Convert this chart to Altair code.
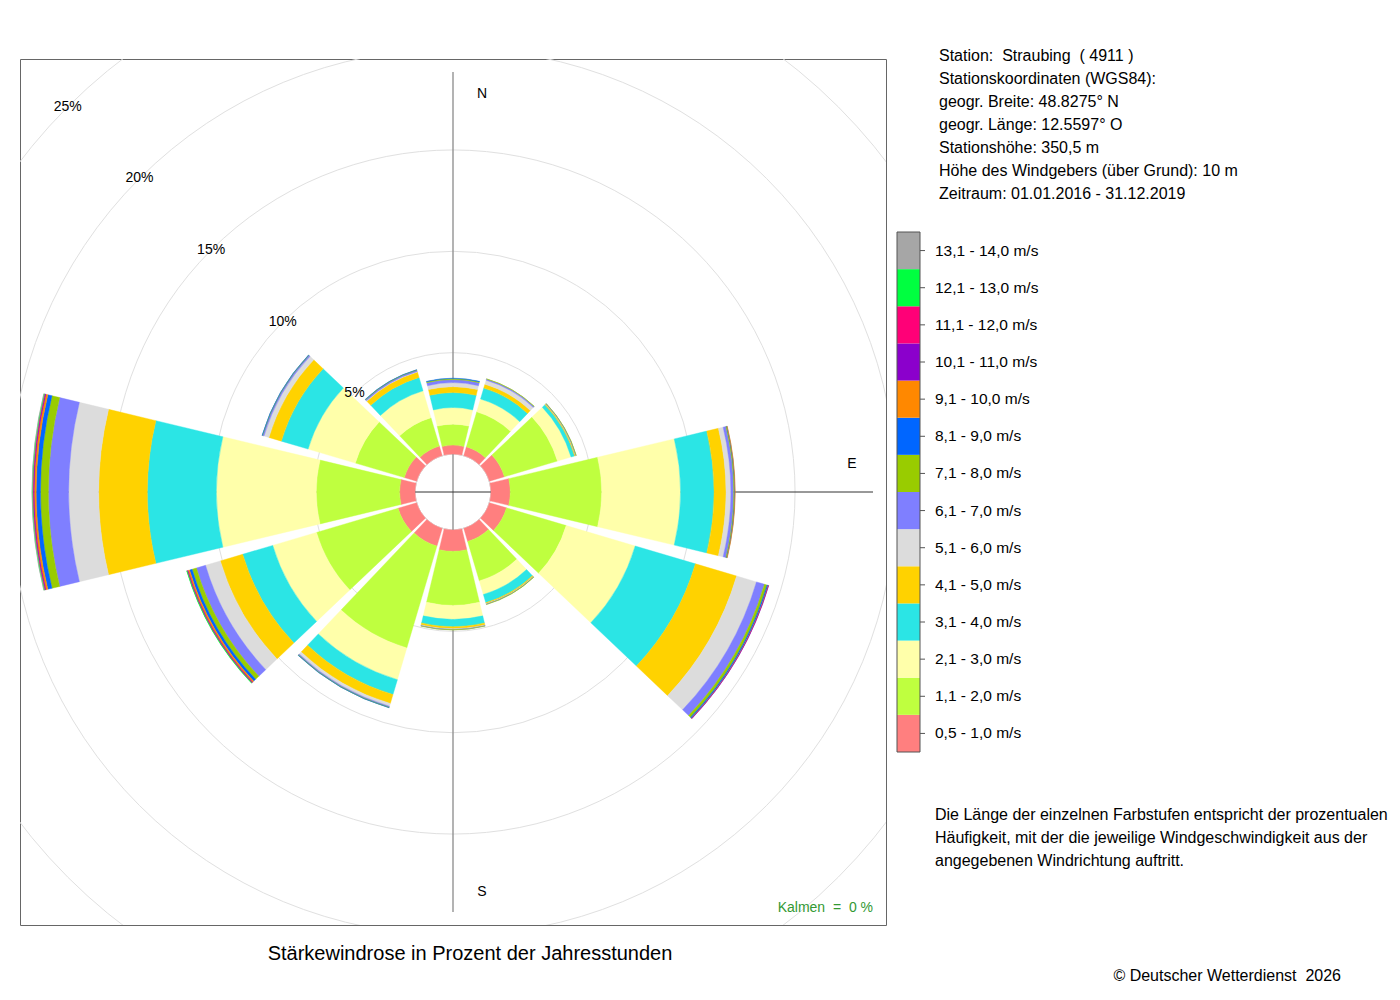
import altair as alt
import pandas as pd

# ---------------- data ----------------
directions = [0, 30, 60, 90, 120, 150, 180, 210, 240, 270, 300, 330]

speed_classes = [
    "0,5 - 1,0 m/s", "1,1 - 2,0 m/s", "2,1 - 3,0 m/s", "3,1 - 4,0 m/s",
    "4,1 - 5,0 m/s", "5,1 - 6,0 m/s", "6,1 - 7,0 m/s", "7,1 - 8,0 m/s",
    "8,1 - 9,0 m/s", "9,1 - 10,0 m/s", "10,1 - 11,0 m/s", "11,1 - 12,0 m/s",
    "12,1 - 13,0 m/s", "13,1 - 14,0 m/s",
]
class_colors = [
    "#FF7F7F", "#BFFF3F", "#FFFFAA", "#2BE5E5", "#FFD200", "#DCDCDC", "#7F7FFF",
    "#99CC00", "#0066FF", "#FF8800", "#8B00CC", "#FF0077", "#00FF40", "#A6A6A6",
]

# percent of hours per direction (N, 30, 60, E, 120, 150, S, 210, 240, W, 300, 330)
f_05_10 = [0.44, 0.45, 0.77, 0.95, 0.88, 0.67, 1.05, 0.91, 0.95, 0.76, 0.63, 0.49]
f_11_20 = [1.03, 1.80, 2.73, 4.51, 3.07, 2.03, 2.67, 5.24, 4.20, 4.11, 2.52, 1.46]
f_21_30 = [0.82, 0.66, 0.70, 3.89, 3.55, 0.70, 0.69, 1.63, 2.25, 4.93, 2.43, 1.38]
f_31_40 = [0.74, 0.56, 0.18, 1.65, 3.10, 0.42, 0.36, 0.77, 1.55, 3.40, 1.38, 0.69]
f_41_50 = [0.29, 0.20, 0.05, 0.59, 2.12, 0.06, 0.10, 0.46, 1.15, 2.40, 0.64, 0.28]
f_51_60 = [0.20, 0.21, 0.01, 0.24, 1.02, 0.01, 0.03, 0.14, 0.76, 1.48, 0.25, 0.03]
f_61_70 = [0.15, 0.06, 0.02, 0.14, 0.41, 0.02, 0.02, 0.05, 0.47, 1.00, 0.07, 0.06]
f_71_80 = [0.05, 0.01, 0.01, 0.04, 0.13, 0.01, 0.01, 0.02, 0.22, 0.39, 0.02, 0.02]
f_81_90 = [0.02, 0.00, 0.00, 0.02, 0.06, 0.00, 0.00, 0.01, 0.13, 0.21, 0.01, 0.01]
f_91_100 = [0.00, 0.00, 0.00, 0.01, 0.02, 0.00, 0.00, 0.00, 0.08, 0.10, 0.00, 0.00]
f_101_110 = [0.00, 0.00, 0.00, 0.00, 0.01, 0.00, 0.00, 0.00, 0.03, 0.04, 0.00, 0.00]
f_111_120 = [0.00, 0.00, 0.00, 0.00, 0.00, 0.00, 0.00, 0.00, 0.02, 0.03, 0.00, 0.00]
f_121_130 = [0.00, 0.00, 0.00, 0.00, 0.00, 0.00, 0.00, 0.00, 0.02, 0.03, 0.00, 0.00]
f_131_140 = [0.00, 0.00, 0.00, 0.00, 0.00, 0.00, 0.00, 0.00, 0.00, 0.01, 0.00, 0.00]

freqs = [f_05_10, f_11_20, f_21_30, f_31_40, f_41_50, f_51_60, f_61_70,
         f_71_80, f_81_90, f_91_100, f_101_110, f_111_120, f_121_130, f_131_140]

grid_levels = [0, 5, 10, 15, 20, 25]
label_levels = [5, 10, 15, 20, 25]
label_texts = ["5%", "10%", "15%", "20%", "25%"]

station_lines = [
    "Station:\u00a0\u00a0Straubing\u00a0\u00a0( 4911 )",
    "Stationskoordinaten (WGS84):",
    "geogr. Breite: 48.8275° N",
    "geogr. Länge: 12.5597° O",
    "Stationshöhe: 350,5 m",
    "Höhe des Windgebers (über Grund): 10 m",
    "Zeitraum: 01.01.2016 - 31.12.2019",
]
desc_lines = [
    "Die Länge der einzelnen Farbstufen entspricht der prozentualen",
    "Häufigkeit, mit der die jeweilige Windgeschwindigkeit aus der",
    "angegebenen Windrichtung auftritt.",
]
title_text = "Stärkewindrose in Prozent der Jahresstunden"
calm_text = "Kalmen\u00a0\u00a0=\u00a0\u00a00 %"
copyright_text = "© Deutscher Wetterdienst\u00a0\u00a02026"

# ---------------- tables ----------------
HALF = 13.5  # half angular width of a sector in degrees
rows = []
for di, d in enumerate(directions):
    cum = 0.0
    for ci, cls in enumerate(speed_classes):
        v = freqs[ci][di]
        if v > 0:
            rows.append({"direction": d, "cls": cls, "inner": cum, "outer": cum + v,
                         "a0": d - HALF, "a1": d + HALF})
        cum += v
bars_df = pd.DataFrame(rows)
grid_df = pd.DataFrame({"level": grid_levels, "t0": 0, "t1": 360})
lab_df = pd.DataFrame({"level": label_levels, "label": label_texts, "angle": 315})
legend_df = pd.DataFrame({"cls": speed_classes})
one = alt.Data(values=[{}])

theta_scale = alt.Scale(domain=[0, 360], range=[0, 6.283185307179586])
radius_scale = alt.Scale(type="linear", domain=[0, 25], range=[38, 544.75])
color_scale = alt.Scale(domain=speed_classes, range=class_colors)
leg_scale = alt.Scale(type="band", domain=speed_classes[::-1], range=[173, 693],
                      paddingInner=0, paddingOuter=0)

FONT = "Liberation Sans"

grid = alt.Chart(grid_df).mark_arc(filled=False, clip=True, stroke="#e0e0e0",
                                   strokeWidth=1).encode(
    theta=alt.Theta("t0:Q", scale=theta_scale, stack=False),
    theta2="t1:Q",
    radius=alt.Radius("level:Q", scale=radius_scale, stack=False),
)

vline = alt.Chart(one).mark_rule(color="#8a8a8a", strokeWidth=1.3).encode(
    x=alt.value(433), y=alt.value(13), y2=alt.value(853))
hline = alt.Chart(one).mark_rule(color="#333333", strokeWidth=1).encode(
    x=alt.value(13), x2=alt.value(853), y=alt.value(433))

bars = alt.Chart(bars_df).mark_arc(strokeWidth=0.4).encode(
    theta=alt.Theta("a0:Q", scale=theta_scale, stack=False),
    theta2="a1:Q",
    radius=alt.Radius("outer:Q", scale=radius_scale, stack=False),
    radius2="inner:Q",
    color=alt.Color("cls:N", scale=color_scale, legend=None),
    stroke=alt.Stroke("cls:N", scale=color_scale, legend=None),
)

pct_labels = alt.Chart(lab_df).mark_text(fontSize=14, font=FONT, color="black").encode(
    theta=alt.Theta("angle:Q", scale=theta_scale, stack=False),
    radius=alt.Radius("level:Q", scale=radius_scale, stack=False),
    text="label:N",
)

def free_text(txt, x, y, size, align="center", baseline="middle", color="black", lh=None):
    props = dict(fontSize=size, font=FONT, align=align, baseline=baseline, color=color)
    if lh is not None:
        props["lineHeight"] = lh
    return alt.Chart(one).mark_text(**props).encode(
        x=alt.value(x), y=alt.value(y), text=alt.value(txt))

n_lab = free_text("N", 462, 35, 14)
e_lab = free_text("E", 832, 405, 14)
s_lab = free_text("S", 462, 833, 14)
calm = free_text(calm_text, 853, 849, 14, align="right", color="#339933")
title = free_text(title_text, 450, 895, 20)
copyr = free_text(copyright_text, 1321, 917, 16, align="right")
station = free_text(station_lines, 919, 1.5, 16, align="left", baseline="alphabetic", lh=23)
desc = free_text(desc_lines, 915, 760.5, 16, align="left", baseline="alphabetic", lh=23)

leg_rect = alt.Chart(legend_df).mark_rect().encode(
    x=alt.value(877), x2=alt.value(900),
    y=alt.Y("cls:N", scale=leg_scale, axis=None),
    color=alt.Color("cls:N", scale=color_scale, legend=None),
)
leg_ticks = alt.Chart(legend_df).mark_rule(color="#555555", strokeWidth=1).encode(
    x=alt.value(900), x2=alt.value(905),
    y=alt.Y("cls:N", scale=leg_scale, axis=None),
)
leg_text = alt.Chart(legend_df).mark_text(align="left", baseline="middle", fontSize=15.5,
                                          font=FONT, color="black").encode(
    x=alt.value(915),
    y=alt.Y("cls:N", scale=leg_scale, axis=None),
    text="cls:N",
)
leg_frame = alt.Chart(one).mark_rect(fillOpacity=0, stroke="#555555", strokeWidth=1).encode(
    x=alt.value(877), x2=alt.value(900), y=alt.value(173), y2=alt.value(693))

chart = alt.layer(
    grid, vline, hline, bars, pct_labels, n_lab, e_lab, s_lab, calm, title, copyr,
    station, desc, leg_rect, leg_ticks, leg_text, leg_frame,
).properties(
    width=866, height=866,
    autosize=alt.AutoSizeParams(type="none"),
    padding={"left": 12, "top": 51, "right": 502, "bottom": 62},
).configure_view(stroke="#666666", strokeWidth=1)

chart.save("out.html", embed_options={"renderer": "svg", "actions": False})
